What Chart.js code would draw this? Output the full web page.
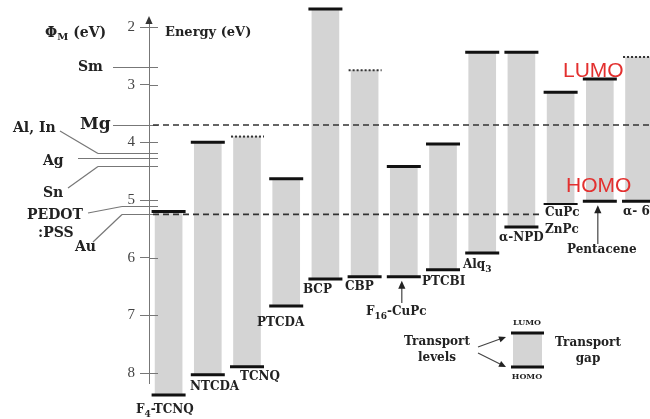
<!DOCTYPE html>
<html><head><meta charset="utf-8">
<script src="https://cdn.jsdelivr.net/npm/chart.js@4"></script>
<style>html,body{margin:0;padding:0;background:#fff}#wrap{width:650px;height:419px;position:relative}</style>
</head><body><div id="wrap"><canvas id="c" width="650" height="419"></canvas></div>
<script>
// ---- data ----
const materials = ['F4-TCNQ','NTCDA','TCNQ','PTCDA','BCP','CBP','F16-CuPc','PTCBI','Alq3','α-NPD','CuPc','Pentacene','α-6T'];
const lumo = [5.2, 4.0, 3.9, 4.63, 1.69, 2.75, 4.42, 4.03, 2.44, 2.44, 3.13, 2.9, 2.52];
const homo = [8.38, 8.03, 7.89, 6.84, 6.37, 6.33, 6.33, 6.21, 5.92, 5.47, 5.07, 5.02, 5.02];
const lumoDotted = [false,false,true,false,false,true,false,false,false,false,false,false,true];
const metals = ['Sm','Mg','Al, In','Ag','Sn','PEDOT:PSS','Au'];
const workFunction = [2.7, 3.7, 4.18, 4.28, 4.41, 5.1, 5.25];
const energyTicks = [2,3,4,5,6,7,8];

// ---- layout / styles (annotation placement) ----
const SERIF = '"DejaVu Serif", "Liberation Serif", serif';
const TXT = '#222';
const barLabelStyle = [
  {segs:[['F'],['4',1],['-TCNQ']], x:136, y:410},
  {segs:[['NTCDA']], x:190, y:387},
  {segs:[['TCNQ']], x:240, y:377},
  {segs:[['PTCDA']], x:257, y:323},
  {segs:[['BCP']], x:303, y:290},
  {segs:[['CBP']], x:345, y:287},
  {segs:[['F'],['16',1],['-CuPc']], x:366, y:312},
  {segs:[['PTCBI']], x:422, y:282},
  {segs:[['Alq'],['3',1]], x:463, y:265},
  {segs:[['α-NPD']], x:499, y:238},
  {segs:[['CuPc']], x:545, y:213},
  {segs:[['Pentacene']], x:567, y:250},
  {segs:[['α- 6T']], x:623, y:212}
];
const metalStyle = [
  {labels:[['Sm',78,67,14]], knee:113},
  {labels:[['Mg',80,125,17]], knee:113},
  {labels:[['Al, In',13,128,14]], knee:98, from:[60,131]},
  {labels:[['Ag',43,161,14]], knee:78},
  {labels:[['Sn',43,193,14]], knee:98, from:[68,188]},
  {labels:[['PEDOT',27,215,14],[':PSS',38,233,14]], knee:122, from:[88,213]},
  {labels:[['Au',75,247,14]], knee:122, from:[93,242]}
];
const AXIS_X = 149;

function rich(ctx, segs, x, y, size, color, weight) {
  let cx = x;
  ctx.textBaseline = 'middle';
  ctx.textAlign = 'left';
  ctx.fillStyle = color;
  for (const s of segs) {
    const sub = s[1];
    const fs = sub ? Math.round(size*0.72) : size;
    ctx.font = `${weight||'bold'} ${fs}px ${SERIF}`;
    ctx.fillText(s[0], cx, sub ? y + size*0.35 : y);
    cx += ctx.measureText(s[0]).width;
  }
}
function line(ctx, x1, y1, x2, y2, color, w, dash) {
  ctx.save();
  ctx.beginPath();
  ctx.strokeStyle = color; ctx.lineWidth = w;
  ctx.setLineDash(dash || []);
  ctx.moveTo(x1, y1); ctx.lineTo(x2, y2); ctx.stroke();
  ctx.restore();
}
function arrowHead(ctx, x, y, angle, len, color) {
  ctx.save();
  ctx.translate(x, y); ctx.rotate(angle);
  ctx.beginPath(); ctx.fillStyle = color;
  ctx.moveTo(0, 0); ctx.lineTo(-len, -len*0.45); ctx.lineTo(-len, len*0.45); ctx.closePath(); ctx.fill();
  ctx.restore();
}

const levelPlugin = {
  id: 'levels',
  afterDatasetsDraw(chart) {
    const ctx = chart.ctx;
    const ys = chart.scales.y;
    const meta = chart.getDatasetMeta(0);
    ctx.save();
    // axis arrow
    arrowHead(ctx, AXIS_X, 16, -Math.PI/2, 8, '#333');
    // right-side tick stubs
    energyTicks.forEach(v => {
      const y = Math.round(ys.getPixelForValue(v)) + 0.5;
      line(ctx, AXIS_X, y, AXIS_X + 9, y, '#777', 1);
    });
    // metal work functions
    metals.forEach((m, i) => {
      const st = metalStyle[i];
      const y = Math.round(ys.getPixelForValue(workFunction[i])) + 0.5;
      line(ctx, st.knee, y, AXIS_X + 9, y, '#777', 1.2);
      if (st.from) line(ctx, st.from[0], st.from[1], st.knee, y, '#777', 1.2);
      st.labels.forEach(l => rich(ctx, [[l[0]]], l[1], l[2], l[3], TXT));
    });
    // dashed reference lines (Mg and Au)
    const yMg = ys.getPixelForValue(workFunction[1]);
    const yAu = ys.getPixelForValue(workFunction[6]);
    line(ctx, 153, yMg, 650, yMg, '#333', 1.6, [6, 4]);
    line(ctx, 153, yAu, 543, yAu, '#333', 1.6, [6, 4]);
    // HOMO / LUMO levels
    meta.data.forEach((el, i) => {
      const x = el.x;
      const yl = ys.getPixelForValue(lumo[i]);
      const yh = ys.getPixelForValue(homo[i]);
      if (lumoDotted[i]) line(ctx, x - 16, yl, x + 17, yl, '#333', 2, [2, 2]);
      else line(ctx, x - 17, yl, x + 17, yl, '#111', 3);
      line(ctx, x - 17, yh, x + 17, yh, '#111', i === 10 ? 2 : 3);
    });
    // bar labels
    barLabelStyle.forEach(s => rich(ctx, s.segs, s.x, s.y, 12, TXT));
    rich(ctx, [['ZnPc']], 545, 230, 12, TXT);
    // arrows (F16-CuPc, Pentacene)
    [[6, 303], [11, 244]].forEach(([i, yEnd]) => {
      const x = meta.data[i].x - 2;
      const yTip = ys.getPixelForValue(homo[i]) + 4;
      line(ctx, x, yEnd, x, yTip + 6, '#444', 1.2);
      arrowHead(ctx, x, yTip, -Math.PI/2, 8, '#222');
    });
    // axis titles
    rich(ctx, [['Energy (eV)']], 165, 33, 13, TXT);
    rich(ctx, [['Φ'], ['M', 1], [' (eV)']], 45, 33, 14, TXT);
    // red LUMO/HOMO captions
    ctx.font = '21px "Liberation Sans", Arial, sans-serif';
    ctx.fillStyle = '#e3302f';
    ctx.textBaseline = 'middle'; ctx.textAlign = 'left';
    ctx.fillText('LUMO', 563, 71);
    ctx.fillText('HOMO', 566, 186);
    // legend illustration
    ctx.fillStyle = '#d4d4d4';
    ctx.fillRect(513, 334, 29, 33);
    line(ctx, 511, 333, 544, 333, '#111', 3);
    line(ctx, 511, 367, 544, 367, '#111', 3);
    ctx.textAlign = 'center';
    ctx.fillStyle = TXT;
    ctx.font = `bold 8px ${SERIF}`;
    ctx.fillText('LUMO', 527, 323);
    ctx.fillText('HOMO', 527, 377);
    ctx.font = `bold 12px ${SERIF}`;
    ctx.fillText('Transport', 437, 342);
    ctx.fillText('levels', 437, 358);
    ctx.fillText('Transport', 588, 343);
    ctx.fillText('gap', 588, 359);
    line(ctx, 478, 347, 500, 339, '#444', 1.2);
    arrowHead(ctx, 506, 337, Math.atan2(-8, 22), 7, '#222');
    line(ctx, 478, 353, 500, 364, '#444', 1.2);
    arrowHead(ctx, 506, 367, Math.atan2(11, 22), 7, '#222');
    ctx.restore();
  }
};

new Chart(document.getElementById('c').getContext('2d'), {
  type: 'bar',
  data: {
    datasets: [{
      data: materials.map((m, i) => ({ x: i, y: [lumo[i], homo[i]] })),
      backgroundColor: '#d4d4d4',
      borderWidth: 0,
      barThickness: 27,
      clip: false
    }]
  },
  options: {
    responsive: false,
    animation: false,
    devicePixelRatio: 1,
    layout: { padding: { left: 0, right: 0, top: 20, bottom: 36 } },
    plugins: { legend: { display: false }, tooltip: { enabled: false } },
    scales: {
      x: { type: 'linear', min: -0.5, max: 12.28, display: false, offset: false },
      y: {
        type: 'linear', reverse: true, min: 1.8786, max: 8.1734,
        afterFit(s) { s.width = AXIS_X; },
        afterBuildTicks(s) { s.ticks = energyTicks.map(v => ({ value: v })); },
        grid: { drawOnChartArea: false, drawTicks: true, tickLength: 9, color: '#777' },
        border: { display: true, color: '#777', width: 1 },
        ticks: { padding: 5, color: '#444', font: { family: '"Liberation Serif", serif', size: 15 } }
      }
    }
  },
  plugins: [levelPlugin]
});
</script>
</body></html>
